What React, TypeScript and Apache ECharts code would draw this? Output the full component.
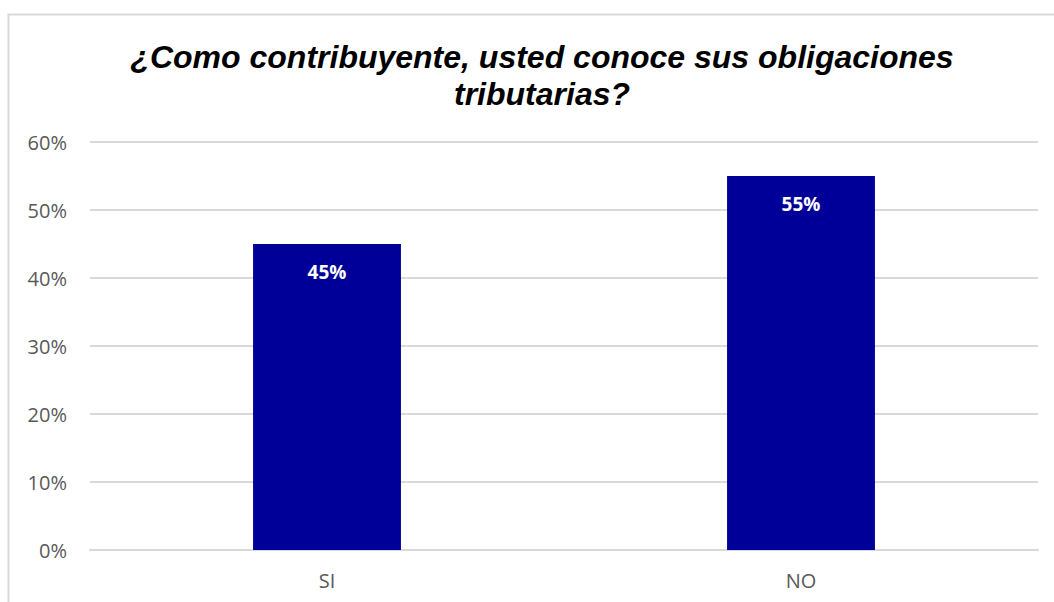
import React, { useEffect, useRef } from "react";
import * as echarts from "echarts";

const categories = ["SI", "NO"];
const values = [45, 55];
const yTicks = [0, 10, 20, 30, 40, 50, 60];
const titleText = "¿Como contribuyente, usted conoce sus obligaciones\ntributarias?";

export default function App() {
  const ref = useRef<HTMLDivElement>(null);
  useEffect(() => {
    const chart = echarts.init(ref.current!, null, { renderer: "svg" });
    chart.setOption({
      animation: false,
      backgroundColor: "#ffffff",
      graphic: [
        {
          type: "rect",
          shape: { x: 8.5, y: 14.5, width: 1200, height: 800 },
          style: { fill: "none", stroke: "#d9d9d9", lineWidth: 2 },
          silent: true,
          z: -1,
        },
      ],
      title: {
        text: titleText,
        left: 537,
        textAlign: "center",
        top: 33,
        textStyle: {
          fontFamily: "Liberation Sans, Arial",
          fontSize: 32,
          fontWeight: "bold",
          fontStyle: "italic",
          color: "#000000",
          lineHeight: 37,
        },
      },
      grid: { left: 90, right: 16, top: 142, bottom: 52, containLabel: false },
      xAxis: {
        type: "category",
        data: categories,
        axisLine: { show: true, lineStyle: { color: "#d9d9d9", width: 2 } },
        axisTick: { show: false },
        axisLabel: {
          color: "#595959",
          fontSize: 20,
          fontFamily: "Open Sans, Lato, sans-serif",
          margin: 20,
        },
      },
      yAxis: {
        type: "value",
        min: yTicks[0],
        max: yTicks[yTicks.length - 1],
        interval: 10,
        axisLine: { show: false },
        axisTick: { show: false },
        splitLine: { lineStyle: { color: "#d9d9d9", width: 2 } },
        axisLabel: {
          formatter: "{value}%",
          color: "#595959",
          fontSize: 20,
          fontFamily: "Open Sans, Lato, sans-serif",
          margin: 23,
        },
      },
      series: [
        {
          type: "bar",
          data: values,
          barWidth: "31.2%",
          itemStyle: { color: "#000099" },
          label: {
            show: true,
            position: "insideTop",
            distance: 18,
            formatter: "{c}%",
            color: "#ffffff",
            fontWeight: "bold",
            fontSize: 19,
            fontFamily: "Open Sans, Lato, sans-serif",
          },
        },
      ],
    });
    return () => chart.dispose();
  }, []);
  return (
    <div
      ref={ref}
      style={{ position: "absolute", left: 0, top: 0, width: 1054, height: 602 }}
    />
  );
}
